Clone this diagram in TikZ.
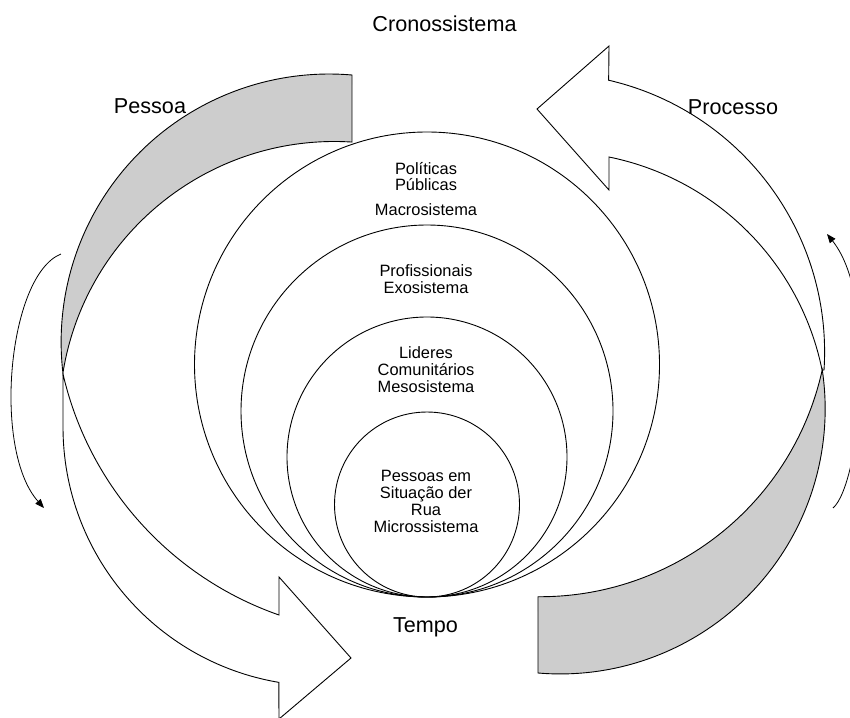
\documentclass[tikz,border=0pt]{standalone}
\usepackage{fontspec}
\setmainfont{Liberation Sans}
\usetikzlibrary{arrows.meta}
\definecolor{faixacinza}{RGB}{205,205,205}

\begin{document}
\begin{tikzpicture}[x=1pt,y=-1pt,line width=0.9pt,
	faixa/.style={draw,fill=faixacinza},
	seta/.style={draw,fill=white},
	grande/.style={font=\fontsize{21.6}{24}\selectfont,anchor=base,inner sep=0pt},
	pequeno/.style={font=\fontsize{16.4}{16.7}\selectfont,align=center,anchor=base,inner sep=0pt},
	giro/.style={-{Triangle[length=9pt,width=7pt]},line width=0.8pt}]
	\useasboundingbox (0,0) rectangle (850,717);
	\clip (0,0) rectangle (850,717);
	\draw[seta] (63,373) -- (63,427) arc[start angle=180,end angle=99.6,radius=259]
		-- (279,719) -- (351,658) -- (279,577) -- (279,615)
		arc[start angle=109.25,end angle=167,radius=335] -- cycle;
	\draw[seta] (824,370) arc[start angle=3.7,end angle=-76.94,radius=279]
		-- (609,46) -- (537,109) -- (609,190) -- (609,157)
		arc[start angle=-78.5,end angle=-11.5,radius=273] -- cycle;
	\draw[faixa] (352,75) arc[start angle=-85.1,end angle=-186.64,radius=268]
		arc[start angle=-170.9,end angle=-86.35,radius=275] -- cycle;
	\draw[faixa] (538,673) arc[start angle=94.8,end angle=-8.5,radius=265]
		arc[start angle=12.4,end angle=90.4,radius=289] -- cycle;
	\draw (427,597) ++(0,-232.5) circle[radius=232.5];
	\draw (427,597) ++(0,-186) circle[radius=186];
	\draw (427,597) ++(0,-140) circle[radius=140];
	\draw (427,597) ++(0,-92.5) circle[radius=92.5];
	\draw[giro] (61,254) .. controls (8,275) and (-8,450) .. (44,508);
	\draw[giro] (833,508) .. controls (860,485) and (880,300) .. (827,234);
	\node[grande] (cronos) at (444.5,32) {Cronossistema};
	\node[grande] (pessoa) at (150,113) {Pessoa};
	\node[grande] (processo) at (733,114.5) {Processo};
	\node[grande] (tempo) at (425.5,632) {Tempo};
	\node[pequeno] (politicas) at (426,190.7) {Políticas\\Públicas};
	\node[pequeno] (macro) at (426,215) {Macrosistema};
	\node[pequeno] (exo) at (426,293) {Profissionais\\Exosistema};
	\node[pequeno] (meso) at (426,392) {Lideres\\Comunitários\\Mesosistema};
	\node[pequeno] (micro) at (426,532) {Pessoas em\\Situação der\\Rua\\Microssistema};
\end{tikzpicture}
\end{document}
